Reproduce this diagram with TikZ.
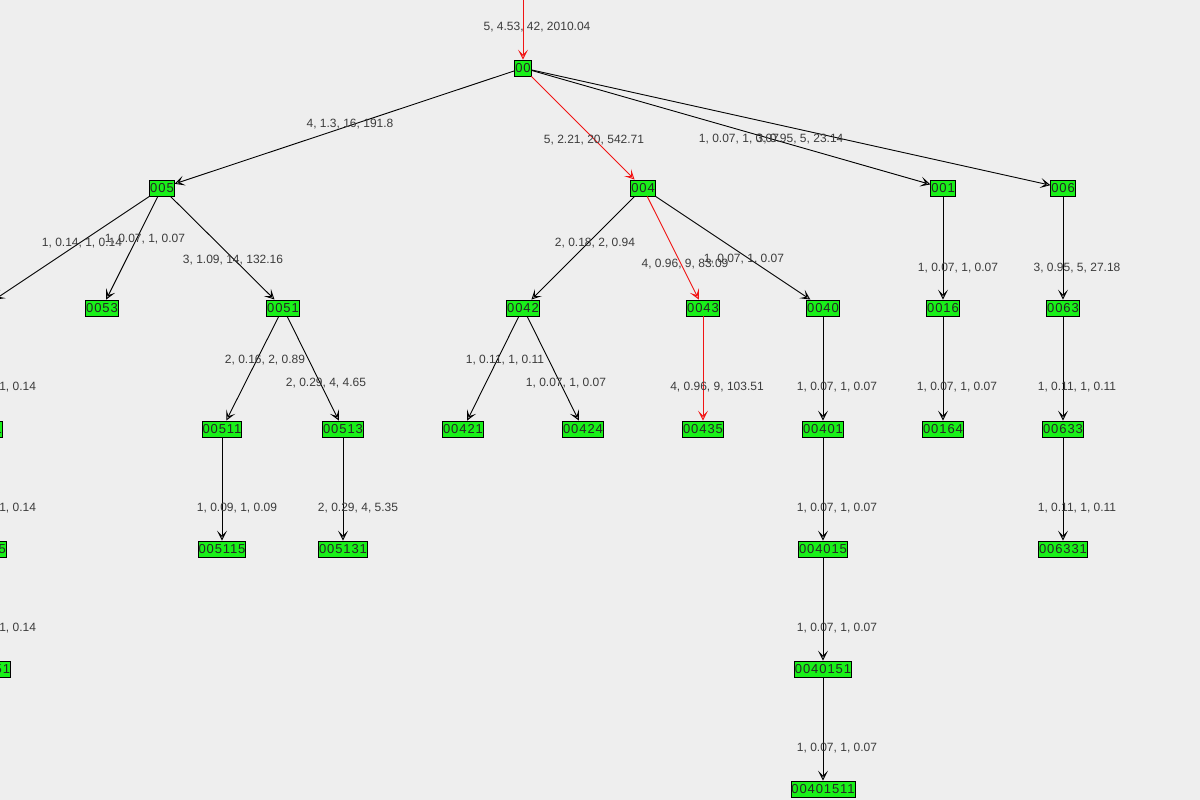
\documentclass[tikz,border=0pt]{standalone}
\usepackage{fontspec}
\setmainfont{Liberation Sans}
\newfontfamily\nodefont[LetterSpace=7]{Liberation Sans}
\usetikzlibrary{arrows.meta}
\definecolor{bg}{RGB}{238,238,238}
\definecolor{nodegreen}{RGB}{25,240,25}
\definecolor{labgray}{RGB}{60,60,60}
\definecolor{edgered}{RGB}{240,20,20}
\tikzset{
  tn/.style={draw=black, line width=0.9pt, fill=nodegreen, rectangle, inner xsep=0.4pt, inner ysep=0pt,
    minimum height=16pt, font=\nodefont\fontsize{13pt}{13pt}\selectfont, text=black!85},
  lab/.style={font=\fontsize{12pt}{12pt}\selectfont, text=labgray, inner sep=0pt},
  ed/.style={draw=black, line width=0.9pt, -{Stealth[length=10pt,width=10pt,inset=5pt,fill=gray!60]}},
  edr/.style={draw=edgered, line width=0.9pt, -{Stealth[length=10pt,width=10pt,inset=5pt,fill=red!35]}}
}
\begin{document}
\begin{tikzpicture}[x=1pt,y=-1pt]
\useasboundingbox (0,0) rectangle (1200,800);
\fill[bg] (0,0) rectangle (1200,800);
\clip (0,0) rectangle (1200,800);
% nodes
\coordinate (top) at (523,-20);
\node[tn] (n00) at (523,68) {00};
\node[tn] (n005) at (162,188) {005};
\node[tn] (n004) at (643,188) {004};
\node[tn] (n001) at (943,188) {001};
\node[tn] (n006) at (1063,188) {006};
\node[tn] (nL2) at (-18,308) {0052};
\node[tn] (n0053) at (102,308) {0053};
\node[tn] (n0051) at (283,308) {0051};
\node[tn] (n0042) at (523,308) {0042};
\node[tn] (n0043) at (703,308) {0043};
\node[tn] (n0040) at (823,308) {0040};
\node[tn] (n0016) at (943,308) {0016};
\node[tn] (n0063) at (1063,308) {0063};
\node[tn] (nL3) at (-18,429) {00521};
\node[tn] (n00511) at (222,429) {00511};
\node[tn] (n00513) at (343,429) {00513};
\node[tn] (n00421) at (463,429) {00421};
\node[tn] (n00424) at (583,429) {00424};
\node[tn] (n00435) at (703,429) {00435};
\node[tn] (n00401) at (823,429) {00401};
\node[tn] (n00164) at (943,429) {00164};
\node[tn] (n00633) at (1063,429) {00633};
\node[tn] (nL4) at (-18,549) {005215};
\node[tn] (n005115) at (222,549) {005115};
\node[tn] (n005131) at (343,549) {005131};
\node[tn] (n004015) at (823,549) {004015};
\node[tn] (n006331) at (1063,549) {006331};
\node[tn] (nL5) at (-18,669) {0052151};
\node[tn] (n0040151) at (823,669) {0040151};
\node[tn] (n00401511) at (823,789) {00401511};
% edges
\draw[edr] (top) -- (n00);
\draw[ed] (n00) -- (n005);
\draw[edr] (n00) -- (n004);
\draw[ed] (n00) -- (n001);
\draw[ed] (n00) -- (n006);
\draw[ed] (n005) -- (nL2);
\draw[ed] (n005) -- (n0053);
\draw[ed] (n005) -- (n0051);
\draw[ed] (n004) -- (n0042);
\draw[edr] (n004) -- (n0043);
\draw[ed] (n004) -- (n0040);
\draw[ed] (n001) -- (n0016);
\draw[ed] (n006) -- (n0063);
\draw[ed] (nL2) -- (nL3);
\draw[ed] (n0051) -- (n00511);
\draw[ed] (n0051) -- (n00513);
\draw[ed] (n0042) -- (n00421);
\draw[ed] (n0042) -- (n00424);
\draw[edr] (n0043) -- (n00435);
\draw[ed] (n0040) -- (n00401);
\draw[ed] (n0016) -- (n00164);
\draw[ed] (n0063) -- (n00633);
\draw[ed] (nL3) -- (nL4);
\draw[ed] (n00511) -- (n005115);
\draw[ed] (n00513) -- (n005131);
\draw[ed] (n00401) -- (n004015);
\draw[ed] (n00633) -- (n006331);
\draw[ed] (nL4) -- (nL5);
\draw[ed] (n004015) -- (n0040151);
\draw[ed] (n0040151) -- (n00401511);
% labels
\node[lab] (l0) at (537,27) {5, 4.53, 42, 2010.04};
\node[lab] (l1) at (350,124) {4, 1.3, 16, 191.8};
\node[lab] (l2) at (594,140) {5, 2.21, 20, 542.71};
\node[lab] (l3) at (739,139) {1, 0.07, 1, 0.07};
\node[lab] (l4) at (800,139) {3, 0.95, 5, 23.14};
\node[lab] (l5) at (82,243) {1, 0.14, 1, 0.14};
\node[lab] (l6) at (145,239) {1, 0.07, 1, 0.07};
\node[lab] (l7) at (233,260) {3, 1.09, 14, 132.16};
\node[lab] (l8) at (595,243) {2, 0.18, 2, 0.94};
\node[lab] (l9) at (685,264) {4, 0.96, 9, 83.09};
\node[lab] (l10) at (744,259) {1, 0.07, 1, 0.07};
\node[lab] (l11) at (958,268) {1, 0.07, 1, 0.07};
\node[lab] (l12) at (1077,268) {3, 0.95, 5, 27.18};
\node[lab] (l13) at (265,360) {2, 0.16, 2, 0.89};
\node[lab] (l14) at (326,383) {2, 0.29, 4, 4.65};
\node[lab] (l15) at (505,360) {1, 0.11, 1, 0.11};
\node[lab] (l16) at (566,383) {1, 0.07, 1, 0.07};
\node[lab] (l17) at (717,387) {4, 0.96, 9, 103.51};
\node[lab] (l18) at (837,387) {1, 0.07, 1, 0.07};
\node[lab] (l19) at (957,387) {1, 0.07, 1, 0.07};
\node[lab] (l20) at (1077,387) {1, 0.11, 1, 0.11};
\node[lab] (l21) at (-4,387) {1, 0.14, 1, 0.14};
\node[lab] (l22) at (237,508) {1, 0.09, 1, 0.09};
\node[lab] (l23) at (358,508) {2, 0.29, 4, 5.35};
\node[lab] (l24) at (837,508) {1, 0.07, 1, 0.07};
\node[lab] (l25) at (1077,508) {1, 0.11, 1, 0.11};
\node[lab] (l26) at (-4,508) {1, 0.14, 1, 0.14};
\node[lab] (l27) at (837,628) {1, 0.07, 1, 0.07};
\node[lab] (l28) at (-4,628) {1, 0.14, 1, 0.14};
\node[lab] (l29) at (837,748) {1, 0.07, 1, 0.07};
\end{tikzpicture}
\end{document}
